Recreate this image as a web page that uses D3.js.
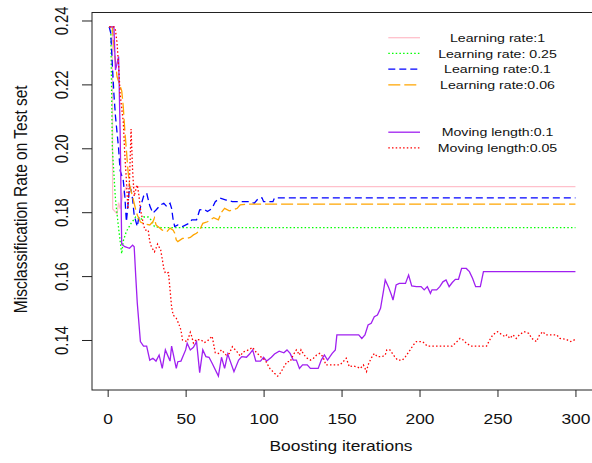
<!DOCTYPE html>
<html>
<head>
<meta charset="utf-8">
<script src="https://cdn.jsdelivr.net/npm/d3@7"></script>
<style>
body { margin: 0; background: #fff; }
svg { display: block; font-family: "Liberation Sans", Arial, Helvetica, sans-serif; }
</style>
</head>
<body>
<svg id="chart" width="592" height="463"></svg>
<script>
// tick values
const xTicks = [0, 50, 100, 150, 200, 250, 300];
const yTicks = [0.14, 0.16, 0.18, 0.20, 0.22, 0.24];

// [iteration, misclassification rate]
const lr1 = [[1,0.238],[3,0.238],[3.2,0.181],[6,0.1795],[7,0.183],[8,0.181],[10,0.186],[12,0.188],[300,0.188]];
const lr025 = [[1,0.238],[2,0.237],[3,0.200],[4,0.192],[5,0.184],[7,0.175],[9,0.167],[10,0.171],[12,0.174],[15,0.1765],[18,0.1785],[21,0.1776],[23,0.1785],[26,0.1785],[28,0.1775],[30,0.1755],[34,0.1752],[300,0.1752]];
const lr01 = [[1,0.238],[2,0.236],[3,0.226],[4,0.217],[5,0.210],[6,0.205],[7,0.200],[8,0.193],[10,0.190],[11,0.185],[12,0.177],[13,0.182],[14,0.188],[15,0.187],[16,0.184],[17,0.179],[19,0.1755],[21,0.1815],[23,0.185],[25,0.186],[27,0.182],[29,0.1797],[31,0.1807],[34,0.1823],[36,0.1828],[38,0.1817],[40,0.1828],[41,0.1812],[42,0.1776],[43,0.1755],[45,0.176],[48,0.1755],[52,0.1765],[54,0.1776],[57,0.1776],[59,0.1807],[62,0.1809],[64,0.1802],[67,0.1812],[69,0.1833],[72,0.1844],[76,0.1838],[80,0.1833],[91,0.1833],[94,0.1828],[97,0.1845],[99,0.1845],[100,0.1833],[106,0.1833],[107,0.1845],[300,0.1845]];
const lr006 = [[1,0.238],[3,0.238],[4,0.232],[6,0.2224],[9,0.218],[10,0.213],[11,0.2055],[12,0.1995],[13,0.1932],[14,0.1885],[16,0.1848],[18,0.1807],[19,0.1791],[21,0.1769],[24,0.1763],[27,0.176],[29,0.177],[30,0.1782],[31,0.176],[35,0.1744],[38,0.1739],[40,0.175],[42,0.1744],[43,0.1734],[44,0.1713],[45,0.1708],[48,0.1718],[51,0.1718],[53,0.1721],[55,0.1729],[57,0.1734],[59,0.1744],[61,0.1765],[64,0.177],[68,0.1783],[71,0.1776],[73,0.18],[75,0.1812],[78,0.1804],[80,0.1807],[83,0.1812],[85,0.1823],[89,0.1825],[300,0.1825]];
const ml01 = [[1,0.238],[4,0.238],[5,0.2245],[6,0.2265],[7,0.2287],[8,0.205],[9,0.170],[11,0.1692],[14,0.1687],[16,0.1697],[17,0.1692],[18,0.160],[19,0.1515],[21,0.1395],[23,0.1381],[25,0.1381],[27,0.1337],[29,0.1343],[31,0.1334],[33,0.1353],[35,0.1311],[37,0.1369],[40,0.1334],[41,0.1381],[44,0.1311],[45,0.1332],[47,0.1334],[50,0.1369],[51,0.139],[53,0.1369],[55,0.1377],[57,0.1395],[59,0.1298],[61,0.1369],[63,0.1348],[65,0.1346],[67,0.1327],[71,0.1287],[73,0.1346],[75,0.1311],[77,0.1356],[81,0.1301],[84,0.1337],[86,0.1348],[89,0.1346],[91,0.1356],[93,0.1369],[95,0.1334],[98,0.1334],[100,0.1346],[102,0.1334],[105,0.1346],[107,0.1356],[110,0.1365],[113,0.136],[115,0.1369],[117,0.1358],[119,0.1337],[121,0.1337],[123,0.1311],[125,0.1322],[128,0.1322],[130,0.1311],[135,0.1311],[137,0.1337],[139,0.1353],[141,0.1337],[144,0.1358],[146,0.1369],[147,0.1416],[161,0.1416],[163,0.1405],[165,0.1416],[167,0.1447],[169,0.1452],[171,0.1473],[173,0.1478],[175,0.1499],[177,0.1557],[178,0.1588],[180,0.1567],[182,0.1541],[183,0.1525],[185,0.1572],[187,0.1577],[191,0.1577],[193,0.1603],[195,0.1569],[198,0.1567],[201,0.1567],[203,0.1557],[205,0.1567],[207,0.1546],[208,0.1557],[211,0.1557],[213,0.1567],[215,0.1582],[217,0.1588],[219,0.1567],[221,0.158],[223,0.159],[225,0.159],[227,0.1624],[230,0.1624],[232,0.1614],[234,0.1593],[236,0.1567],[239,0.1567],[241,0.1614],[300,0.1614]];
const ml005 = [[1,0.238],[4,0.238],[5,0.237],[6,0.233],[7,0.226],[8,0.217],[9,0.2126],[10,0.2083],[11,0.198],[12,0.19],[13,0.181],[14,0.19],[15,0.206],[16,0.193],[17,0.185],[18,0.187],[19,0.1885],[20,0.1854],[21,0.181],[23,0.176],[24,0.1744],[26,0.1744],[27,0.1708],[28,0.1692],[30,0.1676],[31,0.1687],[32,0.170],[34,0.1682],[36,0.1624],[37,0.1609],[39,0.1611],[40,0.1557],[41,0.1504],[42,0.1478],[44,0.1468],[45,0.1457],[46,0.1445],[47,0.1431],[48,0.140],[51,0.1395],[53,0.1424],[54,0.141],[55,0.139],[57,0.1402],[60,0.14],[62,0.1392],[64,0.1397],[67,0.1412],[69,0.136],[71,0.1358],[73,0.1369],[76,0.1353],[78,0.1358],[80,0.1379],[83,0.1363],[85,0.135],[87,0.1363],[89,0.1366],[91,0.1371],[93,0.1377],[95,0.1363],[98,0.1348],[101,0.1337],[104,0.1311],[107,0.1296],[109,0.1287],[111,0.1298],[113,0.1316],[115,0.1332],[117,0.1332],[119,0.1353],[121,0.1369],[123,0.1353],[124,0.1369],[126,0.1353],[128,0.1343],[130,0.1337],[132,0.1343],[134,0.1353],[136,0.1358],[138,0.1348],[140,0.1322],[149,0.1322],[151,0.1332],[153,0.1343],[155,0.1316],[157,0.1319],[160,0.1316],[162,0.1311],[164,0.1322],[166,0.1301],[167,0.1322],[169,0.1343],[171,0.1358],[173,0.1348],[176,0.1348],[178,0.1353],[179,0.1369],[181,0.1369],[184,0.1348],[186,0.1337],[189,0.1337],[191,0.1348],[194,0.1369],[196,0.1384],[198,0.1395],[202,0.1395],[205,0.1381],[221,0.1381],[224,0.1395],[226,0.1405],[228,0.14],[230,0.139],[233,0.1381],[243,0.1381],[245,0.14],[247,0.1416],[250,0.1426],[253,0.1416],[255,0.141],[256,0.1416],[258,0.1405],[260,0.1416],[262,0.1405],[264,0.1416],[267,0.1426],[270,0.1421],[272,0.1405],[275,0.1395],[277,0.1416],[279,0.1426],[281,0.1416],[288,0.1416],[290,0.1405],[294,0.1402],[297,0.1395],[300,0.1402]];

const seriesNames = ["Learning rate:1", "Learning rate: 0.25", "Learning rate:0.1", "Learning rate:0.06", "Moving length:0.1", "Moving length:0.05"];
const legendRows = [0, 1, 2, 3, 6, 7];

let series = [lr1, lr025, lr01, lr006, ml01, ml005];
let colors = ["#ffc0cb", "#00ff00", "#0000ff", "#ffa500", "#a020f0", "#ff0000"];
let dashes = [null, "1.5,2.2", "7,4", "12,4", null, "1.5,2.2"];

let svg = d3.select("#chart");
let margin = {top: 12.5, left: 92, bottom: 390, right: 594};
let sx = 1.2; // the picture is a bit wider than tall, text included

let x = d3.scaleLinear()
	.domain([-10.05, 311.9])
	.range([margin.left, margin.right]);
let y = d3.scaleLinear()
	.domain([0.12435, 0.2425])
	.range([margin.bottom, margin.top]);

// box
svg.append("rect")
	.attr("x", margin.left)
	.attr("y", margin.top)
	.attr("width", margin.right - margin.left)
	.attr("height", margin.bottom - margin.top)
	.attr("fill", "none")
	.attr("stroke", "#222")
	.attr("stroke-width", 1);

let gx = svg.append("g")
	.attr("transform", `translate(0,${margin.bottom})`)
	.call(d3.axisBottom(x).tickValues(xTicks).tickSize(7).tickSizeOuter(0));
gx.select(".domain").remove();
gx.selectAll("line").attr("stroke", "#222");
gx.selectAll("text")
	.attr("y", null).attr("dy", null)
	.attr("fill", "#111")
	.attr("font-size", 14.5)
	.attr("transform", `translate(0,33.5) scale(${sx},1)`);

let gy = svg.append("g")
	.attr("transform", `translate(${margin.left},0)`)
	.call(d3.axisLeft(y).tickValues(yTicks).tickSize(10).tickSizeOuter(0).tickFormat(d3.format(".2f")));
gy.select(".domain").remove();
gy.selectAll("line").attr("stroke", "#222");
gy.selectAll("text")
	.attr("x", null).attr("dy", null)
	.attr("fill", "#111")
	.attr("font-size", 14.8)
	.attr("text-anchor", "middle")
	.attr("transform", `translate(-24,0) scale(${sx},1) rotate(-90)`);

svg.append("text")
	.attr("text-anchor", "middle")
	.attr("font-size", 14.5)
	.attr("fill", "#111")
	.attr("transform", `translate(${(margin.left + margin.right) / 2 - 2},451) scale(${sx},1)`)
	.text("Boosting iterations");
svg.append("text")
	.attr("text-anchor", "middle")
	.attr("font-size", 15.5)
	.attr("fill", "#111")
	.attr("transform", `translate(27,${(margin.top + margin.bottom) / 2 - 2}) scale(${sx},1) rotate(-90)`)
	.text("Misclassification Rate on Test set");

let line = d3.line()
	.x(d => x(d[0]))
	.y(d => y(d[1]));

svg.append("g")
	.selectAll("path")
	.data(series)
	.join("path")
	.attr("d", line)
	.attr("fill", "none")
	.attr("stroke", (d, i) => colors[i])
	.attr("stroke-width", 1.3)
	.attr("stroke-dasharray", (d, i) => dashes[i]);

// legend
let leg = svg.append("g");
let rowY = r => 37.7 + r * 15.75;
leg.selectAll("line")
	.data(seriesNames)
	.join("line")
	.attr("x1", 388.3).attr("x2", 420)
	.attr("y1", (d, i) => rowY(legendRows[i]))
	.attr("y2", (d, i) => rowY(legendRows[i]))
	.attr("stroke", (d, i) => colors[i])
	.attr("stroke-width", 1.3)
	.attr("stroke-dasharray", (d, i) => dashes[i]);
leg.selectAll("text")
	.data(seriesNames)
	.join("text")
	.attr("text-anchor", "middle")
	.attr("dy", "0.36em")
	.attr("font-size", 11.8)
	.attr("fill", "#111")
	.attr("transform", (d, i) => `translate(497.5,${rowY(legendRows[i])}) scale(${sx},1)`)
	.text(d => d);
</script>
</body>
</html>
